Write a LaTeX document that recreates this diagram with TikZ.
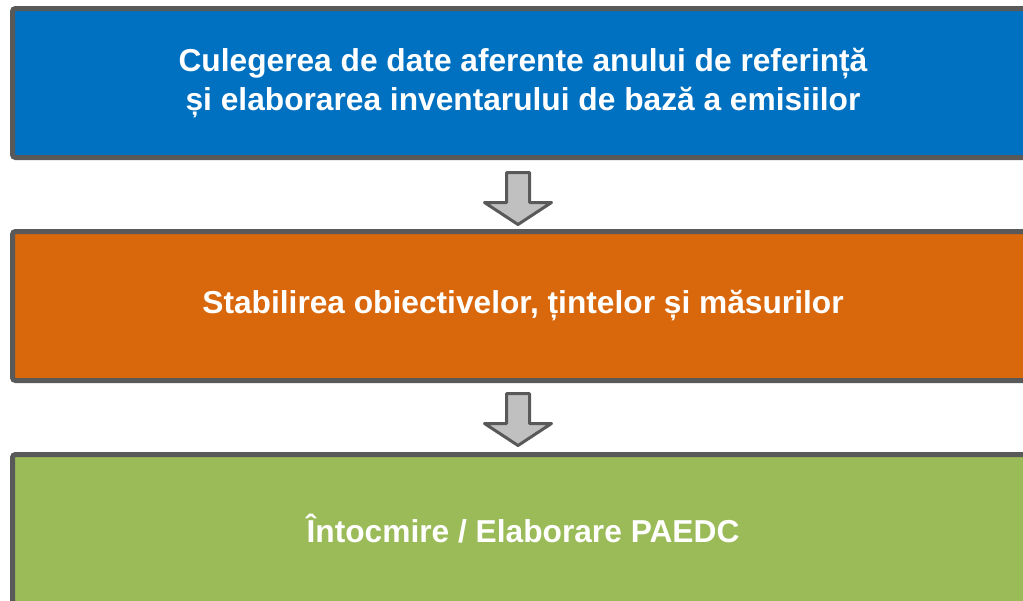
\documentclass[tikz,border=0pt]{standalone}
\usepackage{fontspec}
\setmainfont{Liberation Sans}
\definecolor{stageblue}{HTML}{0070C0}
\definecolor{stageorange}{HTML}{D9670B}
\definecolor{stagegreen}{HTML}{9BBB59}
\definecolor{edgegray}{HTML}{595959}
\definecolor{arrowgray}{HTML}{C0C0C0}
\tikzset{
  stagebox/.style={draw=edgegray,line width=5pt,rounded corners=3pt,
    minimum width=1021pt,minimum height=149pt,inner sep=0pt,
    text=white,font=\fontsize{31.7}{39}\selectfont\bfseries,align=center},
  downarrow/.pic={
    \draw[draw=edgegray,fill=arrowgray,line width=3pt,line join=round]
      (-11.5,0) -- (-11.5,-30) -- (-33.5,-30) -- (0,-52) -- (33.5,-30)
      -- (11.5,-30) -- (11.5,0) -- cycle;
  }
}

\begin{document}
\begin{tikzpicture}[x=1pt,y=1pt]
\useasboundingbox (0,0) rectangle (1023,-600);
\clip (0,0) rectangle (1023,-600);
\node[stagebox,fill=stageblue] (inventar) at (523,-83)
  {Culegerea de date aferente anului de referință\\și elaborarea inventarului de bază a emisiilor};
\node[stagebox,fill=stageorange] (obiective) at (523,-306)
  {Stabilirea obiectivelor, țintelor și măsurilor};
\node[stagebox,fill=stagegreen] (paedc) at (523,-529)
  {Întocmire / Elaborare PAEDC};
% sageti intre etape
\pic (sag1) at (518,-172.5) {downarrow};
\pic (sag2) at (518,-393.5) {downarrow};
\end{tikzpicture}
\end{document}
